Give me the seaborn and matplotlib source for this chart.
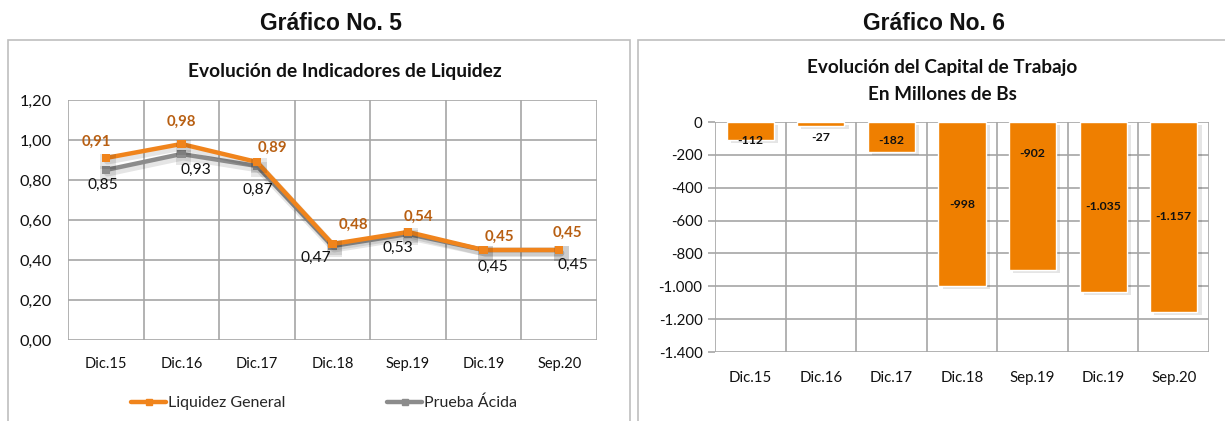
import numpy as np
import pandas as pd
import seaborn as sns
import matplotlib
matplotlib.use("Agg")
import matplotlib.pyplot as plt
import matplotlib.patheffects as pe
from matplotlib.patches import Rectangle
from matplotlib.lines import Line2D
from matplotlib.ticker import FuncFormatter

# ---- data -------------------------------------------------------------
periodos = ["Dic.15", "Dic.16", "Dic.17", "Dic.18", "Sep.19", "Dic.19", "Sep.20"]
liquidez_general = [0.91, 0.98, 0.89, 0.48, 0.54, 0.45, 0.45]
prueba_acida = [0.85, 0.93, 0.87, 0.47, 0.53, 0.45, 0.45]
capital_trabajo = [-112, -27, -182, -998, -902, -1035, -1157]

# ---- styling ----------------------------------------------------------
sns.set_theme(style="white")
BODY = ["Lato", "DejaVu Sans"]
HEAD = ["Liberation Sans", "DejaVu Sans"]
plt.rcParams["font.family"] = BODY

ORANGE = "#F0841C"
ORANGE_TXT = "#B85F12"
BAR = "#EF7F00"
GRAY = "#8C8C8C"
GRID = "#A6A6A6"
FRAME = "#BFBFBF"

W, H = 1225, 421
fig = plt.figure(figsize=(W / 100, H / 100), dpi=100)


def fx(px):
    return px / W


def fy(py):
    return 1 - py / H


# outer boxes of both panels
for x0, x1 in [(8, 630), (638, 1240)]:
    fig.patches.append(Rectangle((fx(x0), fy(440)), fx(x1 - x0), (440 - 40) / H,
                                 transform=fig.transFigure, fill=False,
                                 edgecolor=FRAME, linewidth=1.2))

fig.text(fx(331), fy(24), "Gráfico No. 5", ha="center", va="center",
         fontsize=16.5, fontweight="bold", family=HEAD, color="#111111")
fig.text(fx(934), fy(24), "Gráfico No. 6", ha="center", va="center",
         fontsize=16.5, fontweight="bold", family=HEAD, color="#111111")
fig.text(fx(345), fy(72), "Evolución de Indicadores de Liquidez", ha="center",
         va="center", fontsize=13.8, fontweight="bold", color="#111111")
fig.text(fx(942), fy(68), "Evolución del Capital de Trabajo", ha="center",
         va="center", fontsize=13.6, fontweight="bold", color="#111111")
fig.text(fx(942), fy(95), "En Millones de Bs", ha="center",
         va="center", fontsize=13.6, fontweight="bold", color="#111111")


def comma(v, _pos=None):
    return f"{v:.2f}".replace(".", ",")


def thousands(v, _pos=None):
    return f"{int(round(v)):,}".replace(",", ".")


def category_grid(ax, n):
    ax.set_xticks(np.arange(-0.5, n, 1.0), minor=True)
    ax.grid(which="minor", axis="x", color=GRID, linewidth=1.2)
    ax.grid(which="major", axis="y", color=GRID, linewidth=1.2)
    ax.grid(which="major", axis="x", visible=False)
    ax.set_axisbelow(True)
    for s in ax.spines.values():
        s.set_visible(False)
    ax.set_xlim(-0.5, n - 0.5)
    ax.set_xlabel("")
    ax.set_ylabel("")


# ---- left panel: liquidity ratios ------------------------------------
ax1 = fig.add_axes([fx(68), fy(340), fx(597 - 68), (340 - 100) / H])
df = pd.DataFrame({"periodo": periodos,
                   "Liquidez General": liquidez_general,
                   "Prueba Ácida": prueba_acida})
shadow = [pe.SimpleLineShadow(offset=(1.2, -2.2), shadow_color="#000000",
                              alpha=0.10, linewidth=5), pe.Normal()]
sns.lineplot(data=df, x="periodo", y="Prueba Ácida", sort=False, ax=ax1,
             color=GRAY, linewidth=3.2, marker="s", markersize=6,
             markeredgewidth=0, path_effects=shadow)
sns.lineplot(data=df, x="periodo", y="Liquidez General", sort=False, ax=ax1,
             color=ORANGE, linewidth=3.2, marker="s", markersize=6,
             markeredgewidth=0, path_effects=shadow)
category_grid(ax1, len(periodos))
ax1.set_ylim(0, 1.2)
ax1.set_yticks(np.arange(0, 1.21, 0.2))
ax1.yaxis.set_major_formatter(FuncFormatter(comma))
ax1.tick_params(axis="both", which="both", length=0, colors="#111111")
ax1.tick_params(axis="y", pad=12, labelsize=11.8)
ax1.tick_params(axis="x", pad=12, labelsize=10.5)

# label offsets (pixels) around each point
lg_off = [(-9, -16), (0, -22), (15, -14), (21, -19), (10, -15), (16, -13), (8, -17)]
pa_off = [(-3, 15), (15, 16), (1, 24), (-17, 12), (-10, 14), (9, 17), (14, 15)]
for i, (v, (dx, dy)) in enumerate(zip(liquidez_general, lg_off)):
    ax1.annotate(comma(v), (i, v), xytext=(dx * 0.72, -dy * 0.72),
                 textcoords="offset points", ha="center", va="center",
                 fontsize=10.8, fontweight="bold", color=ORANGE_TXT)
for i, (v, (dx, dy)) in enumerate(zip(prueba_acida, pa_off)):
    ax1.annotate(comma(v), (i, v), xytext=(dx * 0.72, -dy * 0.72),
                 textcoords="offset points", ha="center", va="center",
                 fontsize=11.2, color="#111111")

handles = [Line2D([], [], color=ORANGE, linewidth=3.2, marker="s", markersize=5),
           Line2D([], [], color=GRAY, linewidth=3.2, marker="s", markersize=5)]
fig.legend(handles, ["Liquidez General", "Prueba Ácida"], ncol=2,
           loc="center", bbox_to_anchor=(fx(324), fy(403)), frameon=False,
           fontsize=11.5, handlelength=2.2, handletextpad=0.1,
           columnspacing=6.4)

# ---- right panel: working capital -------------------------------------
ax2 = fig.add_axes([fx(715), fy(352), fx(1209 - 715), (352 - 122) / H])
dfc = pd.DataFrame({"periodo": periodos, "capital": capital_trabajo})
sns.barplot(data=dfc, x="periodo", y="capital", ax=ax2, color=BAR,
            saturation=1, width=0.67, zorder=3)
for bar in ax2.patches:
    bar.set_path_effects([pe.SimplePatchShadow(offset=(3, -2), shadow_rgbFace="#000000",
                                               alpha=0.10), pe.Normal()])
category_grid(ax2, len(periodos))
ax2.set_ylim(-1400, 0)
ax2.set_yticks(np.arange(-1400, 1, 200))
ax2.yaxis.set_major_formatter(FuncFormatter(thousands))
ax2.tick_params(axis="x", length=0, pad=14, labelsize=10.8, colors="#111111")
ax2.tick_params(axis="y", left=True, length=5, width=1.2, color=GRID,
                pad=4, labelsize=10.8, colors="#111111")

# where each value label sits along the bar
label_y = [-112, -92, -110, -505, -190, -517, -578]
for i, (v, ly) in enumerate(zip(capital_trabajo, label_y)):
    ax2.text(i, ly, thousands(v), ha="center", va="center", fontsize=8.8,
             fontweight="bold", color="#111111", zorder=5)

fig.savefig("out.png", dpi=100)
